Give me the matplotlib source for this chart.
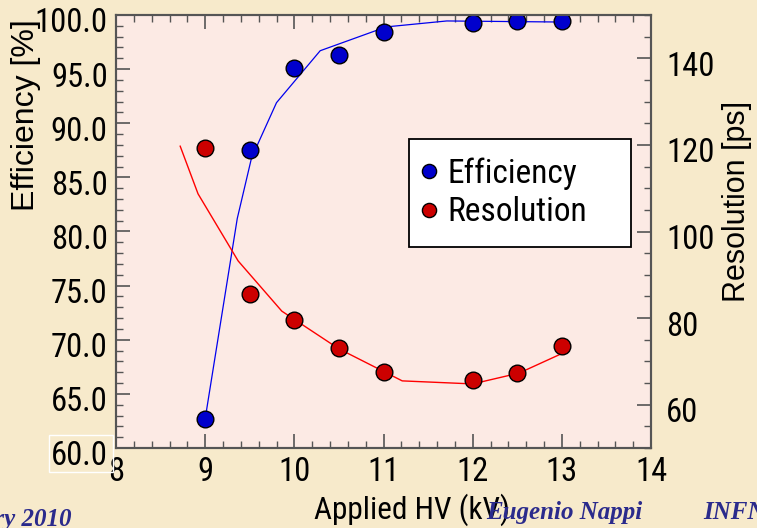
import matplotlib
matplotlib.use("Agg")
import matplotlib.pyplot as plt
from matplotlib import font_manager
from matplotlib.patches import Rectangle
from matplotlib.ticker import MultipleLocator, FormatStrFormatter
from matplotlib.transforms import ScaledTranslation

# data
hv = [9.0, 9.5, 10.0, 10.5, 11.0, 12.0, 12.5, 13.0]
efficiency = [62.7, 87.5, 95.1, 96.3, 98.4, 99.3, 99.4, 99.4]
resolution = [119.3, 85.6, 79.6, 73.1, 67.6, 65.7, 67.3, 73.6]

eff_fit_x = [9.0, 9.36, 9.52, 9.80, 10.29, 11.03, 11.71, 13.0]
eff_fit_y = [62.7, 81.2, 86.8, 91.9, 96.7, 98.9, 99.45, 99.35]
res_fit_x = [8.72, 8.92, 9.37, 9.86, 10.5, 11.21, 12.0, 12.52, 13.02]
res_fit_y = [119.7, 108.7, 93.2, 81.6, 72.9, 65.5, 64.8, 67.3, 72.0]

# colours
PAPER = "#F7EACB"
PINK = "#FCEAE4"
BLUE = "#0000CC"
RED = "#CC0000"
FOOT = "#2B2B8C"
SPINE = "#555555"
W, H = 757, 528

# the slide text is a narrow Helvetica; use a condensed face if one exists
ttf = font_manager.fontManager.ttflist
names = {f.name for f in ttf}
NARROW = None
for nm in ["Liberation Sans Narrow", "Arial Narrow", "Roboto Condensed",
           "Open Sans Condensed", "Noto Sans Condensed", "DejaVu Sans Condensed"]:
    if nm in names:
        NARROW = {"family": nm}
        break
if NARROW is None:
    for f in ttf:
        if f.name in ("Roboto", "Noto Sans", "Open Sans", "DejaVu Sans") \
                and "condensed" in str(f.stretch) and f.style == "normal":
            NARROW = {"family": f.name, "stretch": f.stretch}
            break
SCALE = 1.0
if NARROW is None:
    NARROW = {"family": "Liberation Sans"}
    SCALE = 0.86
SANS = "Liberation Sans"

fig = plt.figure(figsize=(W / 100, H / 100), dpi=100)
fig.patch.set_facecolor(PAPER)
ax = fig.add_axes([116 / W, (H - 448) / H, 535 / W, 433 / H])
ax.set_facecolor(PINK)
ax2 = ax.twinx()

ax.plot(eff_fit_x, eff_fit_y, color="#0000EE", lw=0.9, zorder=2)
h_eff, = ax.plot(hv, efficiency, "o", ms=12, mfc=BLUE, mec="black", mew=1.0,
                 label="Efficiency", zorder=3)
ax2.plot(res_fit_x, res_fit_y, color="#FF0000", lw=1.0, zorder=2)
h_res, = ax2.plot(hv, resolution, "o", ms=12, mfc=RED, mec="black", mew=1.0,
                  label="Resolution", zorder=3)

ax.set_xlim(8, 14)
ax.set_ylim(60, 100)
ax2.set_ylim(50, 150)

ax.xaxis.set_major_locator(MultipleLocator(1))
ax.xaxis.set_minor_locator(MultipleLocator(0.2))
ax.yaxis.set_major_locator(MultipleLocator(5))
ax.yaxis.set_minor_locator(MultipleLocator(1))
ax.yaxis.set_major_formatter(FormatStrFormatter("%.1f"))
ax2.yaxis.set_major_locator(MultipleLocator(20))
ax2.yaxis.set_minor_locator(MultipleLocator(5))

ax.tick_params(axis="x", which="both", direction="in", top=True, bottom=True,
               color=SPINE, pad=6)
ax.tick_params(axis="y", which="both", direction="in", left=True, right=False,
               color=SPINE, pad=6)
ax2.tick_params(axis="y", which="both", direction="in", right=True, left=False,
                color=SPINE, pad=11)
for a in (ax, ax2):
    a.tick_params(which="major", length=10, width=1.2)
    a.tick_params(which="minor", length=5, width=1.0)
    for s in a.spines.values():
        s.set_color(SPINE)
        s.set_linewidth(1.5)

shift = ScaledTranslation(0, -5 / 100, fig.dpi_scale_trans)
for lab in ax.get_xticklabels() + ax.get_yticklabels() + ax2.get_yticklabels():
    lab.update(NARROW)
    lab.set_fontsize(23.5 * SCALE)
for lab in ax.get_yticklabels() + ax2.get_yticklabels():
    lab.set_transform(lab.get_transform() + shift)

# axis titles
fig.text(26 / W, 1 - 115 / H, "Efficiency [%]", rotation=90, ha="center",
         va="center", fontsize=23, family=SANS)
fig.text(737 / W, 1 - 201 / H, "Resolution [ps]", rotation=90, ha="center",
         va="center", fontsize=22, family=SANS)
fig.text(412 / W, 1 - 519 / H, "Applied HV (kV)", ha="center", va="baseline",
         fontsize=22.5 * SCALE, **NARROW)

leg = ax2.legend(handles=[h_eff, h_res], loc="upper left", mode="expand",
                 bbox_to_anchor=(0.548, 0.464, 0.415, 0.25), borderaxespad=0,
                 fancybox=False, framealpha=1, edgecolor="black",
                 prop=dict(size=24 * SCALE, **NARROW), handlelength=0.1,
                 handletextpad=0.5, labelspacing=0.2,
                 borderpad=0.55, markerscale=0.85)
leg.get_frame().set_linewidth(1.3)

# slide leftovers
fig.add_artist(Rectangle((49 / W, 1 - 472 / H), 64 / W, 37 / H,
                         transform=fig.transFigure, fill=False,
                         edgecolor="white", lw=1))
foot = dict(color=FOOT, family="Liberation Serif", style="italic",
            weight="bold", fontsize=18, va="baseline")
fig.text(72 / W, 1 - 526 / H, "February 2010", ha="right", **foot)
fig.text(486 / W, 1 - 519 / H, "Eugenio Nappi", ha="left", **foot)
fig.text(703 / W, 1 - 519 / H, "INFN", ha="left", **foot)

fig.savefig("out.png", dpi=100, facecolor=PAPER)
